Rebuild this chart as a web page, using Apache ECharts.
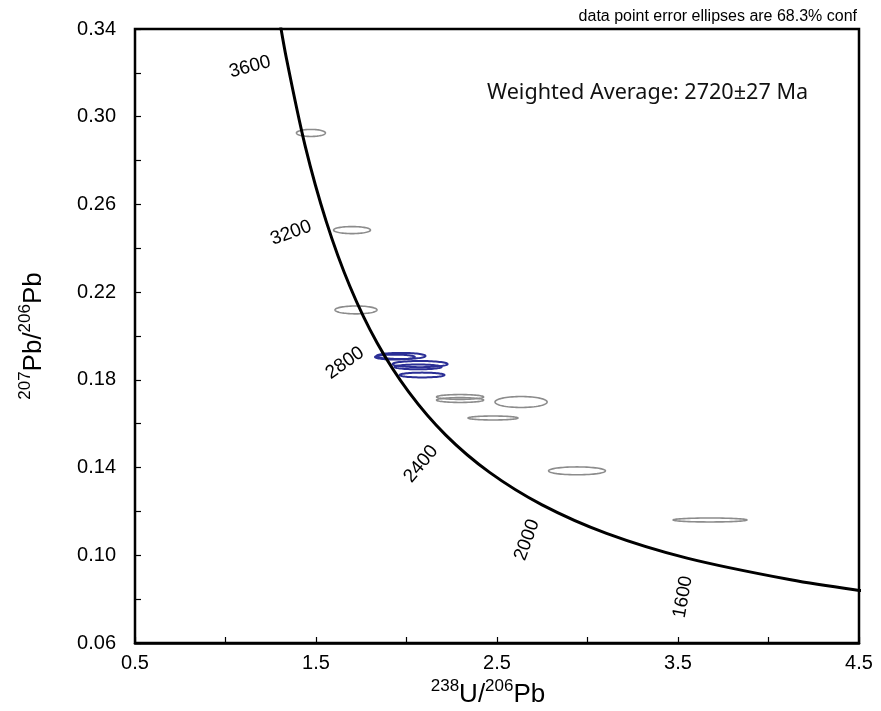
<!DOCTYPE html>
<html>
<head>
<meta charset="utf-8">
<script src="https://cdn.jsdelivr.net/npm/echarts@6/dist/echarts.min.js"></script>
<style>
html,body{margin:0;padding:0;background:#fff;}
#chart{width:881px;height:711px;}
</style>
</head>
<body>
<div id="chart"></div>
<script>
// concordia curve (238U/206Pb, 207Pb/206Pb)
var concX = [1.245, 1.290, 1.337, 1.440, 1.556, 1.687, 1.838, 2.013, 2.217, 2.459, 2.749, 3.105, 3.550, 4.123, 4.475, 4.888];
var concY = [0.3721, 0.3483, 0.3264, 0.2867, 0.2524, 0.2227, 0.1968, 0.1744, 0.1548, 0.1378, 0.1230, 0.1100, 0.0987, 0.0888, 0.0843, 0.0801];

// age labels along the curve (Ma)
var ageText = ['3600', '3200', '2800', '2400', '2000', '1600'];
var ageX = [1.135, 1.362, 1.660, 2.080, 2.666, 3.528];
var ageY = [0.3227, 0.2470, 0.1877, 0.1416, 0.1070, 0.0810];
var ageRot = [15, 20, 35, 50, 70, 80];

// gray ellipses: centre and half axes
var grayX  = [1.472, 1.699, 1.721, 2.296, 2.296, 2.633, 2.478, 2.942, 3.677];
var grayY  = [0.2926, 0.2483, 0.2119, 0.1722, 0.1708, 0.1699, 0.1626, 0.1385, 0.1161];
var graySx = [0.080, 0.102, 0.116, 0.130, 0.130, 0.144, 0.138, 0.157, 0.204];
var graySy = [0.0016, 0.0016, 0.0018, 0.0011, 0.0011, 0.0025, 0.0009, 0.0018, 0.0009];

// blue ellipses used in weighted average
var blueX  = [1.970, 1.936, 2.075, 2.064, 2.086];
var blueY  = [0.1909, 0.1904, 0.1872, 0.1859, 0.1822];
var blueSx = [0.135, 0.110, 0.152, 0.130, 0.124];
var blueSy = [0.0014, 0.0011, 0.0014, 0.0011, 0.0011];

var xTicks = [0.5, 1.5, 2.5, 3.5, 4.5];
var yTicks = [0.06, 0.10, 0.14, 0.18, 0.22, 0.26, 0.30, 0.34];

var FONT = 'Liberation Sans, Arial';

function zipData(a, b, c, d) {
    var out = [];
    for (var i = 0; i < a.length; i++) {
        out.push(c ? [a[i], b[i], c[i], d[i]] : [a[i], b[i]]);
    }
    return out;
}

function ellipseItem(color, width) {
    return function (params, api) {
        var cx = api.value(0), cy = api.value(1);
        var rx = api.value(2), ry = api.value(3);
        var pts = [];
        for (var k = 0; k < 72; k++) {
            var a = k / 72 * Math.PI * 2;
            pts.push(api.coord([cx + rx * Math.cos(a), cy + ry * Math.sin(a)]));
        }
        return {
            type: 'polygon',
            shape: { points: pts },
            style: { fill: 'none', stroke: color, lineWidth: width }
        };
    };
}

function ageItem(params, api) {
    var p = api.coord([api.value(0), api.value(1)]);
    var i = params.dataIndex;
    return {
        type: 'text',
        x: p[0],
        y: p[1],
        rotation: ageRot[i] * Math.PI / 180,
        style: {
            text: ageText[i],
            fill: '#000',
            font: '19px ' + FONT,
            align: 'center',
            verticalAlign: 'middle'
        }
    };
}

var axisNameRich = {
    b: { fontFamily: FONT, fontSize: 26, color: '#000', verticalAlign: 'bottom', lineHeight: 30 },
    sup: { fontFamily: FONT, fontSize: 17, color: '#000', verticalAlign: 'top', lineHeight: 30, padding: [0, 0, 12, 0] }
};

var myChart = echarts.init(document.getElementById('chart'));

var option = {
    animation: false,
    backgroundColor: '#fff',
    title: [{
        text: 'data point error ellipses are 68.3% conf',
        right: 19,
        top: 4,
        textStyle: { fontFamily: FONT, fontSize: 16, fontWeight: 'normal', color: '#000' }
    }, {
        text: 'Weighted Average: 2720\u00b127 Ma',
        left: 482,
        top: 77,
        textStyle: { fontFamily: 'Noto Sans', fontSize: 21.6, fontWeight: 'normal', color: '#111' }
    }],
    grid: {
        left: 135,
        right: 22,
        top: 29,
        bottom: 68,
        outerBoundsMode: 'none',
        show: true,
        borderColor: '#000',
        borderWidth: 2.5
    },
    xAxis: {
        type: 'value',
        min: 0.5,
        max: 4.5,
        interval: 0.5,
        splitLine: { show: false },
        axisLine: { lineStyle: { color: '#000', width: 2.5 } },
        axisTick: { inside: true, length: 6, lineStyle: { color: '#000', width: 1.2 } },
        axisLabel: {
            margin: 10,
            color: '#000',
            fontFamily: FONT,
            fontSize: 20,
            formatter: function (v) {
                for (var i = 0; i < xTicks.length; i++) {
                    if (Math.abs(xTicks[i] - v) < 1e-6) return v.toFixed(1);
                }
                return '';
            }
        },
        name: '{sup|238}{b|U/}{sup|206}{b|Pb}',
        nameLocation: 'middle',
        nameGap: 35,
        nameTextStyle: { color: '#000', rich: axisNameRich, padding: [0, 18, 0, 0] }
    },
    yAxis: {
        type: 'value',
        min: 0.06,
        max: 0.34,
        interval: 0.02,
        splitLine: { show: false },
        axisLine: { lineStyle: { color: '#000', width: 2 } },
        axisTick: { inside: true, length: 6, lineStyle: { color: '#000', width: 1.2 } },
        axisLabel: {
            margin: 19,
            color: '#000',
            fontFamily: FONT,
            fontSize: 20,
            formatter: function (v) {
                for (var i = 0; i < yTicks.length; i++) {
                    if (Math.abs(yTicks[i] - v) < 1e-6) return v.toFixed(2);
                }
                return '';
            }
        },
        name: '{sup|207}{b|Pb/}{sup|206}{b|Pb}',
        nameLocation: 'middle',
        nameRotate: 90,
        nameGap: 88,
        nameTextStyle: { color: '#000', rich: axisNameRich }
    },
    series: [{
        name: 'gray',
        type: 'custom',
        renderItem: ellipseItem('#8c8c8c', 1.6),
        data: zipData(grayX, grayY, graySx, graySy),
        z: 2
    }, {
        name: 'blue',
        type: 'custom',
        renderItem: ellipseItem('#2b2f96', 2),
        data: zipData(blueX, blueY, blueSx, blueSy),
        z: 3
    }, {
        name: 'concordia',
        type: 'line',
        data: zipData(concX, concY),
        smooth: 0.3,
        showSymbol: false,
        symbol: 'none',
        clip: true,
        lineStyle: { color: '#000', width: 3 },
        z: 4
    }, {
        name: 'ages',
        type: 'custom',
        renderItem: ageItem,
        data: zipData(ageX, ageY),
        z: 5
    }]
};

myChart.setOption(option);
</script>
</body>
</html>
